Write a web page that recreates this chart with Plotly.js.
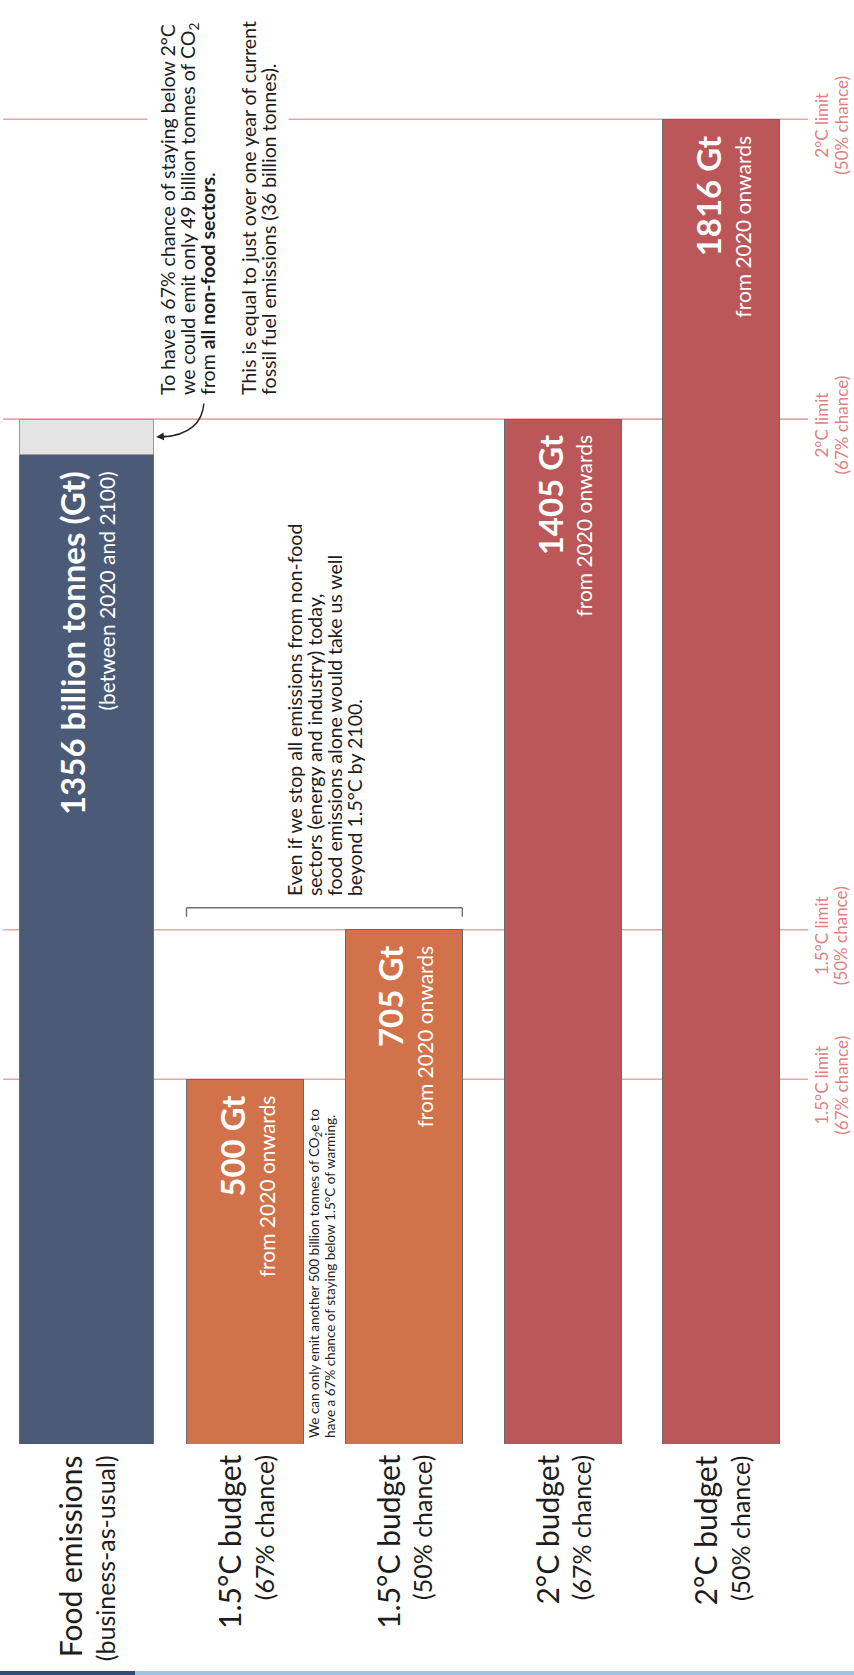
<!DOCTYPE html>
<html>
<head>
<meta charset="utf-8">
<script src="https://cdn.plot.ly/plotly-3.0.1.min.js"></script>
<style>
  html, body { margin: 0; padding: 0; background: #ffffff; }
  #chart { width: 854px; height: 1675px; }
</style>
</head>
<body>
<div id="chart"></div>
<script>
// ---- Data ----
const categories = ['Food emissions', '1.5°C budget (67%)', '1.5°C budget (50%)', '2°C budget (67%)', '2°C budget (50%)'];
const labelMain = ['Food emissions', '1.5°C budget', '1.5°C budget', '2°C budget', '2°C budget'];
const labelSub = ['(business-as-usual)', '(67% chance)', '(50% chance)', '(67% chance)', '(50% chance)'];
const values = [1356, 500, 705, 1405, 1816];           // billion tonnes (Gt)
const nonFoodRemaining = [49, null, null, null, null];  // Gt left for non-food sectors (2°C, 67%)
const barHeadline = ['1356 billion tonnes (Gt)', '500 Gt', '705 Gt', '1405 Gt', '1816 Gt'];
const barSub = ['(between 2020 and 2100)', 'from 2020 onwards', 'from 2020 onwards', 'from 2020 onwards', 'from 2020 onwards'];
const barColors = ['#4b5b77', '#d2724a', '#d2724a', '#bb5659', '#bb5659'];
const limitValues = [500, 705, 1405, 1816];
const limitNames = ['1.5°C limit', '1.5°C limit', '2°C limit', '2°C limit'];
const limitChance = ['(67% chance)', '(50% chance)', '(67% chance)', '(50% chance)'];

// ---- Style constants ----
const FONT = 'Lato, "Open Sans", sans-serif';
const TEXT = '#1d1d1d';
const LIMIT_LINE = '#eba3a4';
const LIMIT_TEXT = '#e2807f';
const wFood = 0.844, wBar = 0.737;
const widths = categories.map((c, i) => i === 0 ? wFood : wBar);

const traces = [
  {
    type: 'bar', x: categories, y: values, width: widths,
    marker: { color: barColors, line: { color: '#6a6a6a', width: 1 } },
    hoverinfo: 'skip', showlegend: false
  },
  {
    type: 'bar', x: categories, y: nonFoodRemaining, width: wFood,
    marker: { color: '#e4e4e4', line: { color: '#9a9a9a', width: 1 } },
    hoverinfo: 'skip', showlegend: false
  }
];

const shapes = [];
// limit lines (behind bars)
limitValues.forEach(v => {
  shapes.push({ type: 'line', layer: 'below', xref: 'paper', yref: 'y', x0: 0.004, x1: 1.0, y0: v, y1: v,
    line: { color: LIMIT_LINE, width: 1.6 } });
});
// bracket over the two 1.5°C bars
const bx0 = 1 - wBar / 2, bx1 = 2 + wBar / 2;
const bracketLine = { color: '#6f6f6f', width: 1.4 };
shapes.push({ type: 'line', xref: 'x', ysizemode: 'pixel', yanchor: values[2], x0: bx0, x1: bx1, y0: 22, y1: 22, line: bracketLine });
shapes.push({ type: 'line', xref: 'x', ysizemode: 'pixel', yanchor: values[2], x0: bx0, x1: bx0, y0: 13, y1: 22, line: bracketLine });
shapes.push({ type: 'line', xref: 'x', ysizemode: 'pixel', yanchor: values[2], x0: bx1, x1: bx1, y0: 13, y1: 22, line: bracketLine });
// curved arrow body pointing to the grey remainder
shapes.push({ type: 'path', xref: 'x', yref: 'y', xsizemode: 'pixel', ysizemode: 'pixel',
  xanchor: 0, yanchor: values[0] + nonFoodRemaining[0],
  path: 'M117.8,17 Q116,-15 76,-18', line: { color: '#222222', width: 1.4 } });
// footer strip
shapes.push({ type: 'rect', xref: 'paper', yref: 'paper', x0: -0.01, x1: 0.1671, y0: -0.16667, y1: -0.16378, line: { width: 0 }, fillcolor: '#2e4b7b' });
shapes.push({ type: 'rect', xref: 'paper', yref: 'paper', x0: 0.1671, x1: 1.07, y0: -0.16667, y1: -0.16378, line: { width: 0 }, fillcolor: '#9dc3e6' });

const annotations = [];
// labels inside bars
categories.forEach((c, i) => {
  annotations.push({
    x: c, y: values[i], xref: 'x', yref: 'y', yanchor: 'top', xanchor: 'center', yshift: -14,
    textangle: -90, align: 'right', showarrow: false,
    text: '<b><span style="font-size:33px">' + barHeadline[i] + '</span></b><br><span style="font-size:21px">' + barSub[i] + '</span>',
    font: { family: FONT, size: 23, color: '#ffffff' }
  });
  // category labels below
  annotations.push({
    x: c, y: 0, xref: 'x', yref: 'y', yanchor: 'top', xanchor: 'center', yshift: -9,
    textangle: -90, align: 'right', showarrow: false,
    text: '<span style="font-size:30px">' + labelMain[i] + '</span><br>' + labelSub[i],
    font: { family: FONT, size: 25, color: TEXT }
  });
});
// limit labels on the right
limitValues.forEach((v, i) => {
  annotations.push({
    x: 1.029, y: v, xref: 'paper', yref: 'y', xanchor: 'center', yanchor: 'middle', yshift: -6,
    textangle: -90, align: 'center', showarrow: false,
    text: '<span style="font-size:17px">' + limitNames[i] + '</span><br><span style="font-size:17px">' + limitChance[i] + '</span>',
    font: { family: FONT, size: 15, color: LIMIT_TEXT }
  });
});
// top note about non-food sectors (white box interrupts the 2°C line)
annotations.push({
  x: 0.2698, y: 0.7504, xref: 'paper', yref: 'paper', xanchor: 'center', yanchor: 'bottom',
  textangle: -90, align: 'left', showarrow: false, bgcolor: '#ffffff', borderpad: 8,
  text: ['To have a 67% chance of staying below 2°C',
         'we could emit only 49 billion tonnes of CO<sub>2</sub>',
         'from <b>all non-food sectors</b>.',
         ' ',
         'This is equal to just over one year of current',
         'fossil fuel emissions (36 billion tonnes).'].map(s => '<span style="font-size:19.5px">' + s + '</span>').join('<br>'),
  font: { family: FONT, size: 15.5, color: TEXT }
});
// arrowhead at the grey remainder
annotations.push({
  x: 0, y: values[0] + nonFoodRemaining[0] / 2, xref: 'x', yref: 'y', xshift: 158.8 * wFood / 2 + 3,
  text: '', showarrow: true, ax: 12, ay: -1, arrowhead: 2, arrowsize: 1.1, arrowwidth: 1.4, arrowcolor: '#222222'
});
// note on 1.5°C budgets
annotations.push({
  x: 1.5, y: values[2], xref: 'x', yref: 'y', xanchor: 'center', yanchor: 'bottom', yshift: 32,
  textangle: -90, align: 'left', showarrow: false,
  text: ['Even if we stop all emissions from non-food',
         'sectors (energy and industry) today,',
         'food emissions alone would take us well',
         'beyond 1.5°C by 2100.'].map(s => '<span style="font-size:19.5px">' + s + '</span>').join('<br>'),
  font: { family: FONT, size: 15.5, color: TEXT }
});
// small note between the orange bars
annotations.push({
  x: 1.5, y: 0, xref: 'x', yref: 'y', xanchor: 'center', yanchor: 'bottom', yshift: 4, xshift: -3,
  textangle: -90, align: 'left', showarrow: false,
  text: ['We can only emit another 500 billion tonnes of CO<sub>2</sub>e to',
         'have a 67% chance of staying below 1.5°C of warming.'].map(s => '<span style="font-size:13.5px">' + s + '</span>').join('<br>'),
  font: { family: FONT, size: 12.3, color: TEXT }
});

const layout = {
  width: 854, height: 1675,
  margin: { l: 0, r: 46, t: 58, b: 231 },
  paper_bgcolor: '#ffffff', plot_bgcolor: '#ffffff',
  barmode: 'stack', showlegend: false,
  font: { family: FONT, color: TEXT },
  xaxis: { type: 'category', range: [-0.5428, 4.5453], showticklabels: false, showgrid: false, zeroline: false, showline: false, ticks: '', fixedrange: true },
  yaxis: { range: [0, 1900], visible: false, showgrid: false, zeroline: false, fixedrange: true },
  shapes: shapes,
  annotations: annotations
};

Plotly.newPlot('chart', traces, layout, { displayModeBar: false, staticPlot: true });
</script>
</body>
</html>
